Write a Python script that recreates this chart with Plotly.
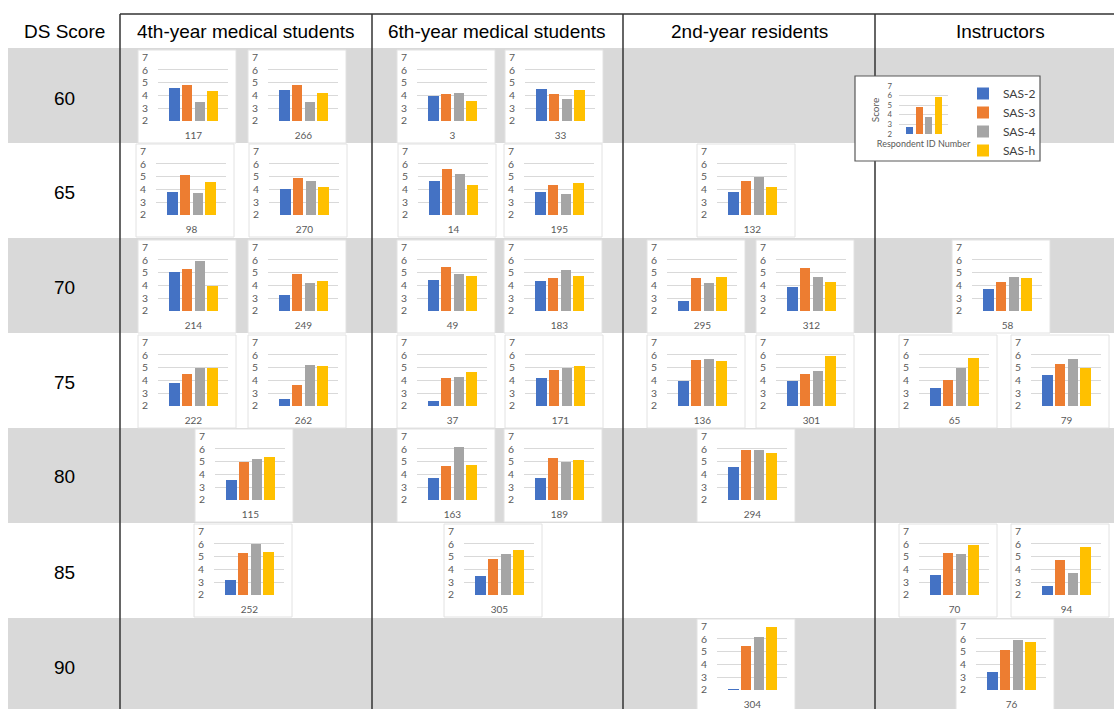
import plotly.graph_objects as go

W, H = 1114, 709

# ---------------- data ----------------
groups = ["4th-year medical students", "6th-year medical students",
          "2nd-year residents", "Instructors"]
ds_scores = [60, 65, 70, 75, 80, 85, 90]
series = ["SAS-2", "SAS-3", "SAS-4", "SAS-h"]

resp_id = [117, 266, 3, 33,
           98, 270, 14, 195, 132,
           214, 249, 49, 183, 295, 312, 58,
           222, 262, 37, 171, 136, 301, 65, 79,
           115, 163, 189, 294,
           252, 305, 70, 94,
           304, 76]
resp_group = [0, 0, 1, 1,
              0, 0, 1, 1, 2,
              0, 0, 1, 1, 2, 2, 3,
              0, 0, 1, 1, 2, 2, 3, 3,
              0, 1, 1, 2,
              0, 1, 3, 3,
              2, 3]
resp_ds = [60] * 4 + [65] * 5 + [70] * 7 + [75] * 8 + [80] * 4 + [85] * 4 + [90] * 2

sas2 = [4.55, 4.45, 3.93, 4.53,
        3.76, 4.02, 4.62, 3.82, 3.77,
        5.05, 3.24, 4.39, 4.31, 2.76, 3.90, 3.68,
        3.79, 2.52, 2.36, 4.18, 3.92, 3.97, 3.37, 4.46,
        3.59, 3.74, 3.74, 4.56,
        3.13, 3.51, 3.57, 2.70,
        2.08, 3.38]
sas3 = [4.80, 4.79, 4.14, 4.14,
        5.11, 4.93, 5.62, 4.38, 4.62,
        5.27, 4.92, 5.45, 4.61, 4.54, 5.35, 4.26,
        4.49, 3.66, 4.18, 4.82, 5.58, 4.49, 4.01, 5.28,
        4.95, 4.62, 5.28, 5.92,
        5.30, 4.79, 5.27, 4.76,
        5.43, 5.13]
sas4 = [3.45, 3.48, 4.21, 3.72,
        3.69, 4.67, 5.21, 3.64, 4.95,
        5.91, 4.18, 4.92, 5.20, 4.16, 4.64, 4.66,
        5.00, 5.19, 4.23, 5.00, 5.65, 4.72, 5.00, 5.70,
        5.21, 6.18, 4.95, 5.92,
        5.97, 5.21, 5.20, 3.70,
        6.15, 5.95]
sash = [4.34, 4.19, 3.56, 4.40,
        4.54, 4.15, 4.38, 4.51, 4.18,
        3.95, 4.36, 4.77, 4.77, 4.66, 4.28, 4.54,
        5.00, 5.11, 4.62, 5.11, 5.52, 5.91, 5.73, 5.00,
        5.33, 4.74, 5.13, 5.72,
        5.35, 5.56, 5.94, 5.74,
        6.95, 5.74]

# example chart shown in the legend box
example_vals = [2.7, 4.8, 3.8, 5.85]

# ---------------- layout helpers (positions / styles) ----------------
COLORS = ["#4472C4", "#ED7D31", "#A5A5A5", "#FFC000"]
ROW_TOP = {60: 50, 65: 144, 70: 240, 75: 335, 80: 429, 85: 524, 90: 619}
ROW_CENTER = {60: 98, 65: 192, 70: 287, 75: 382, 80: 477, 85: 572, 90: 667}
BAND_TOP = {60: 48, 70: 238, 80: 428, 90: 618}
BOX_LEFT = {117: 138, 266: 248, 3: 397, 33: 505,
            98: 136, 270: 249, 14: 398, 195: 504, 132: 697,
            214: 138, 249: 248, 49: 397, 183: 504, 295: 647, 312: 756, 58: 952,
            222: 138, 262: 248, 37: 397, 171: 505, 136: 647, 301: 756, 65: 899, 79: 1011,
            115: 195, 163: 397, 189: 504, 294: 697,
            252: 194, 305: 444, 70: 899, 94: 1011,
            304: 697, 76: 956}
COL_CENTER = [246, 497, 749, 1000]
BOX_W, BOX_H = 98, 93


def px(x):
    return x / W


def py(y):
    return 1 - y / H


fig = go.Figure()
axes = {}
CHART_FONT = "Lato, Open Sans, sans-serif"
TABLE_FONT = "Liberation Sans, Arial, sans-serif"


def add_chart(n, vals, x0, x1, y0, y1, label, legend=False, example=False):
    xa = "x" if n == 1 else f"x{n}"
    ya = "y" if n == 1 else f"y{n}"
    bw = 0.72 if example else 0.83
    for k in range(4):
        fig.add_trace(go.Bar(
            x=[k], y=[vals[k]], width=bw, name=series[k],
            marker=dict(color=COLORS[k], line=dict(width=0)),
            xaxis=xa, yaxis=ya, showlegend=legend,
            hovertemplate=f"{label}<br>{series[k]}: %{{y}}<extra></extra>",
        ))
    xkey = "xaxis" if n == 1 else f"xaxis{n}"
    ykey = "yaxis" if n == 1 else f"yaxis{n}"
    xr = [-1.08, 3.97] if example else [-1.32, 4.25]
    xaxis = dict(domain=[px(x0), px(x1)], anchor=ya, range=xr, automargin=False,
                 showgrid=False, zeroline=False, showline=False,
                 ticks="", fixedrange=True)
    if example:
        xaxis.update(showticklabels=False,
                     title=dict(text="Respondent ID Number", standoff=6,
                                font=dict(size=9, color="#595959", family=CHART_FONT)))
    else:
        xaxis.update(tickmode="array", tickvals=[1.5], ticktext=[str(label)],
                     tickfont=dict(size=10, color="#595959", family=CHART_FONT),
                     ticklabelstandoff=7)
    yaxis = dict(domain=[py(y1), py(y0)], anchor=xa, range=[1.98, 7.02], automargin=False,
                 tickmode="array", tickvals=[2, 3, 4, 5, 6, 7],
                 showgrid=True, gridcolor="#D9D9D9", gridwidth=1,
                 zeroline=False, showline=False, ticks="", fixedrange=True,
                 tickfont=dict(size=7.8 if example else 10.4, color="#595959",
                               family=CHART_FONT),
                 ticklabelstandoff=6 if example else 9)
    if example:
        yaxis.update(title=dict(text="Score", standoff=5,
                                font=dict(size=10, color="#595959", family=CHART_FONT)))
    axes[xkey] = xaxis
    axes[ykey] = yaxis


shapes = []
# grey bands
for s, top in BAND_TOP.items():
    bot = min(top + 95, H + 2)
    shapes.append(dict(type="rect", xref="paper", yref="paper",
                       x0=px(8), x1=px(W), y0=py(bot), y1=py(top),
                       fillcolor="#D9D9D9", line=dict(width=0), layer="below"))

# mini charts
for i, rid in enumerate(resp_id):
    bx = BOX_LEFT[rid]
    by = ROW_TOP[resp_ds[i]]
    shapes.append(dict(type="rect", xref="paper", yref="paper",
                       x0=px(bx), x1=px(bx + BOX_W), y0=py(by + BOX_H), y1=py(by),
                       fillcolor="white", line=dict(color="#E2E2E2", width=1),
                       layer="below"))
    vals = [sas2[i], sas3[i], sas4[i], sash[i]]
    add_chart(i + 1, vals, bx + 20, bx + 90, by + 7, by + 71, rid)

# table lines
for xl in (120, 372, 623, 875):
    shapes.append(dict(type="line", xref="paper", yref="paper",
                       x0=px(xl), x1=px(xl), y0=py(14), y1=py(H + 2),
                       line=dict(color="#333333", width=1.5), layer="below"))
shapes.append(dict(type="line", xref="paper", yref="paper",
                   x0=px(120), x1=px(W), y0=py(14), y1=py(14),
                   line=dict(color="#333333", width=1.5), layer="below"))

# legend box with example chart
shapes.append(dict(type="rect", xref="paper", yref="paper",
                   x0=px(855), x1=px(1040), y0=py(161), y1=py(76),
                   fillcolor="white", line=dict(color="#595959", width=1.2),
                   layer="below"))
add_chart(len(resp_id) + 1, example_vals, 899, 948, 86, 134, "Example",
          legend=True, example=True)

annotations = []
annotations.append(dict(text="DS Score", x=px(64), y=py(31), xref="paper", yref="paper",
                        showarrow=False, xanchor="center", yanchor="middle",
                        font=dict(size=19, color="black", family=TABLE_FONT)))
for g, cx in zip(groups, COL_CENTER):
    annotations.append(dict(text=g, x=px(cx), y=py(31), xref="paper", yref="paper",
                            showarrow=False, xanchor="center", yanchor="middle",
                            font=dict(size=19, color="black", family=TABLE_FONT)))
for s in ds_scores:
    annotations.append(dict(text=str(s), x=px(64), y=py(ROW_CENTER[s]),
                            xref="paper", yref="paper", showarrow=False,
                            xanchor="center", yanchor="middle",
                            font=dict(size=19, color="black", family=TABLE_FONT)))

fig.update_layout(
    width=W, height=H,
    margin=dict(l=0, r=0, t=0, b=0, pad=0, autoexpand=False),
    paper_bgcolor="white", plot_bgcolor="rgba(0,0,0,0)",
    barmode="overlay", bargap=0,
    shapes=shapes, annotations=annotations,
    showlegend=True,
    legend=dict(x=px(963), y=py(79), xanchor="left", yanchor="top",
                bgcolor="rgba(0,0,0,0)", borderwidth=0,
                font=dict(size=12, color="#404040", family=CHART_FONT),
                itemclick=False, itemdoubleclick=False, tracegroupgap=0),
    **axes,
)

fig.write_html("out.html")
